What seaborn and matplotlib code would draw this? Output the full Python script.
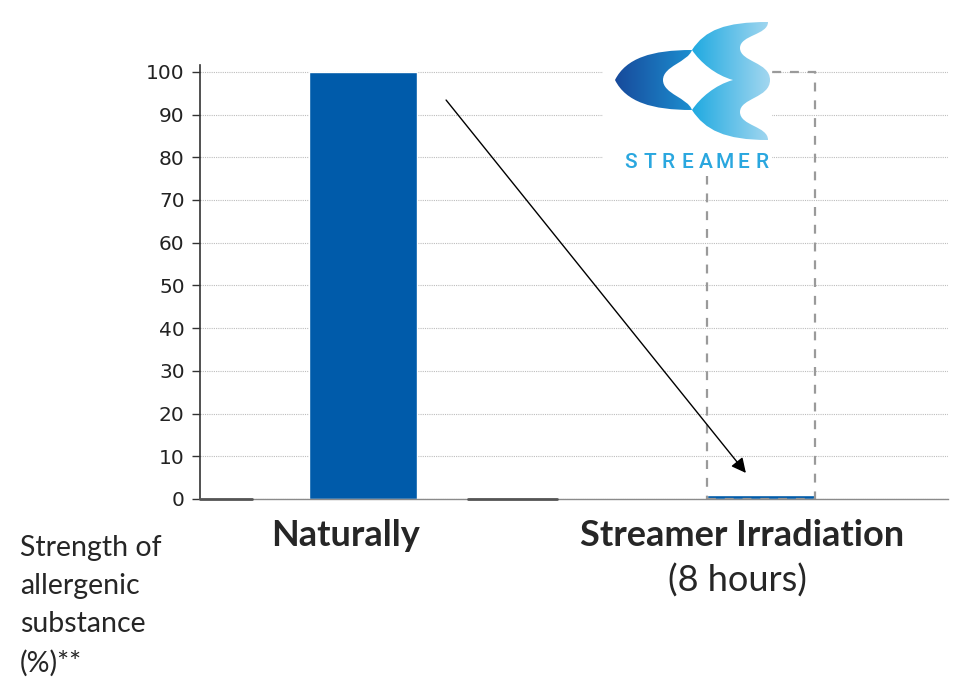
import numpy as np
import matplotlib
matplotlib.use("Agg")
import matplotlib.pyplot as plt
import matplotlib.patches as mpatches
from matplotlib.path import Path
from matplotlib.colors import LinearSegmentedColormap
import seaborn as sns

# chart data
categories = ["Naturally", "Streamer Irradiation"]
values = [100, 1]
outline_top = [0, 100]          # dashed outline (original level) per category
y_ticks = list(range(0, 101, 10))

sns.set_style("white")
plt.rcParams['font.family'] = ['Lato', 'DejaVu Sans']

bar_blue = "#005BAA"
width = 0.27

fig = plt.figure(figsize=(9.62, 6.79), dpi=100)
ax = fig.add_axes([200/962, 1-499/679, 748/962, 434/679])

sns.barplot(x=categories, y=values, color=bar_blue, saturation=1, width=width, ax=ax)

# dashed outline showing the original level on the streamer bar
ax.bar([1], [outline_top[1]], width=width, fill=False, edgecolor="#9a9a9a",
       linestyle=(0, (4, 4)), linewidth=1.6, zorder=1)

ax.set_xlim(-0.41, 1.47)
ax.set_ylim(0, 101.6)
ax.set_yticks(y_ticks)
ax.set_yticklabels([str(t) for t in y_ticks], family="DejaVu Sans")
ax.tick_params(axis="y", direction="out", length=6, width=1, color="#333333",
               labelsize=14.5, pad=5, labelcolor="#222222", left=True)
ax.tick_params(axis="x", length=0, labelbottom=False)
ax.set_xlabel("")
ax.set_ylabel("")

ax.yaxis.grid(True, linestyle=(0, (1, 1)), color="#bdbdbd", linewidth=0.8)
ax.set_axisbelow(True)
for s in ["top", "right"]:
    ax.spines[s].set_visible(False)
ax.spines["left"].set_color("#333333")
ax.spines["left"].set_linewidth(1.2)
ax.spines["bottom"].set_color("#8a8a8a")
ax.spines["bottom"].set_linewidth(1)

# darker baseline pieces
ax.plot([-0.41, -0.28], [0, 0], color="#555555", lw=2, clip_on=False, zorder=3)
ax.plot([0.264, 0.487], [0, 0], color="#555555", lw=2, clip_on=False, zorder=3)

# arrow from the first bar down to the second
ax.annotate("", xy=(0.962, 6.1), xytext=(0.2085, 93.4),
            arrowprops=dict(arrowstyle="-|>", color="black", lw=1,
                            mutation_scale=22, shrinkA=0, shrinkB=0))

# category labels
fig.text(346/962, 1-535/679, categories[0], ha="center", va="center",
         fontsize=26, weight="bold")
fig.text(742/962, 1-535/679, categories[1], ha="center", va="center",
         fontsize=26, weight="bold")
fig.text(737/962, 1-581/679, "(8 hours)", ha="center", va="center", fontsize=26)

fig.text(20/962, 1-535/679, "Strength of\nallergenic\nsubstance\n(%)**",
         ha="left", va="top", fontsize=20.5, linespacing=1.58)

# streamer logo
lax = fig.add_axes([603/962, 1-176/679, 169/962, 158/679])
lax.set_xticks([])
lax.set_yticks([])
for s in lax.spines.values():
    s.set_visible(False)
lax.set_zorder(5)

M, C = Path.MOVETO, Path.CURVE4
left_path = Path(
    [(615, 80),
     (626, 58), (652, 50), (692, 50),
     (688, 62), (663, 66), (663, 80),
     (663, 94), (688, 98), (692, 110),
     (652, 110), (626, 102), (615, 80)],
    [M] + [C] * 12)
right_path = Path(
    [(692, 50),
     (705, 30), (725, 22), (768, 22),
     (768, 35), (740, 35), (740, 48),
     (740, 62), (770, 62), (770, 80),
     (770, 98), (740, 98), (740, 112),
     (740, 126), (768, 126), (768, 140),
     (725, 140), (705, 130), (692, 110),
     (700, 98), (715, 85), (733, 80),
     (715, 75), (700, 62), (692, 50)],
    [M] + [C] * 24)
logo_path = Path.make_compound_path(left_path, right_path)
patch = mpatches.PathPatch(logo_path, facecolor="none", edgecolor="none")
lax.add_patch(patch)

cmap = LinearSegmentedColormap.from_list(
    "streamer", [(0, "#17489A"), (0.48, "#1C8CCE"), (0.5, "#20AAE1"), (1, "#A6D8F0")])
grad = np.linspace(0, 1, 256).reshape(1, -1)
im = lax.imshow(grad, cmap=cmap, extent=[613, 772, 145, 18], aspect="auto")
im.set_clip_path(patch)
lax.set_xlim(603, 772)
lax.set_ylim(176, 18)

for i, ch in enumerate("STREAMER"):
    lax.text(631 + i * 18.7, 163, ch, ha="center", va="center",
             color="#2AA7DF", fontsize=15, family="Roboto", weight="medium")

fig.savefig("out.png", dpi=100)
